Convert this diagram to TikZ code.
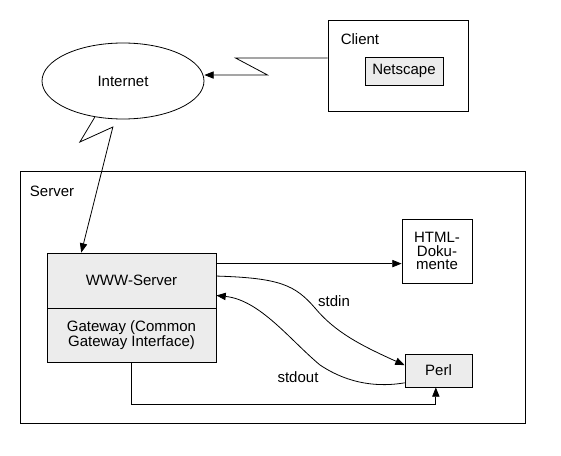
\documentclass[tikz,border=0pt]{standalone}
\usepackage{fontspec}
\setmainfont{Liberation Sans}
\usetikzlibrary{shapes.geometric,arrows.meta}

\begin{document}
\begin{tikzpicture}[x=0.75pt,y=-0.75pt,line width=0.6pt,
  font=\fontsize{11.25}{10}\selectfont,
  box/.style={draw,rectangle,inner sep=0pt},
  grey/.style={box,fill=gray!15},
  arr/.style={-{Triangle[length=7pt,width=5.5pt]}}]
\useasboundingbox (0,0) rectangle (561,456);

% client side
\node[box,minimum width=105pt,minimum height=68.25pt] (client) at (398,65.5) {};
\node (clientlabel) at (360,39.5) {Client};
\node[grey,minimum width=58.5pt,minimum height=21pt] (netscape) at (404,71) {Netscape};
\node[draw,ellipse,inner sep=0pt,minimum width=121.5pt,minimum height=57pt] (internet) at (123,81) {Internet};

% server side
\node[box,minimum width=378.75pt,minimum height=189pt] (server) at (272.5,297) {};
\node (serverlabel) at (52,191) {Server};
\node[grey,minimum width=126.75pt,minimum height=41.25pt] (www) at (131.5,280.5) {WWW-Server};
\node[grey,minimum width=126.75pt,minimum height=40.5pt,align=center] (cgi) at (131.5,335) {Gateway (Common\\Gateway Interface)};
\node[box,minimum width=52.5pt,minimum height=48pt,align=center] (html) at (437,251) {HTML-\\Doku-\\mente};
\node[grey,minimum width=50.25pt,minimum height=24.75pt] (perl) at (438.5,370.5) {Perl};

\draw[arr] ([yshift=5.6pt]client.west) -- ++(-92,0) -- ++(32,17) coordinate (k1) -- (internet.east |- k1);
\draw[arr] (internet.-128) -- ++(-15,25) -- ++(33,-15) -- ([xshift=26pt]www.north west);
\draw[arr] ([yshift=-8.25pt]www.north east) coordinate (k2) -- (html.west |- k2);

\draw[arr] (www.3) .. controls (280,278) and (295,285) .. (315,308) .. controls (335,332) and (360,345) .. (perl.171);
\draw[arr] (perl.200) .. controls (380,387) and (350,385) .. (320,365) .. controls (290,340) and (260,300) .. (www.-10);
\node (stdin) at (334,301) {stdin};
\node (stdout) at (298,377) {stdout};

\draw[arr] (cgi.south) -- ++(0,42) -| ([xshift=-2pt]perl.south);
\end{tikzpicture}
\end{document}
